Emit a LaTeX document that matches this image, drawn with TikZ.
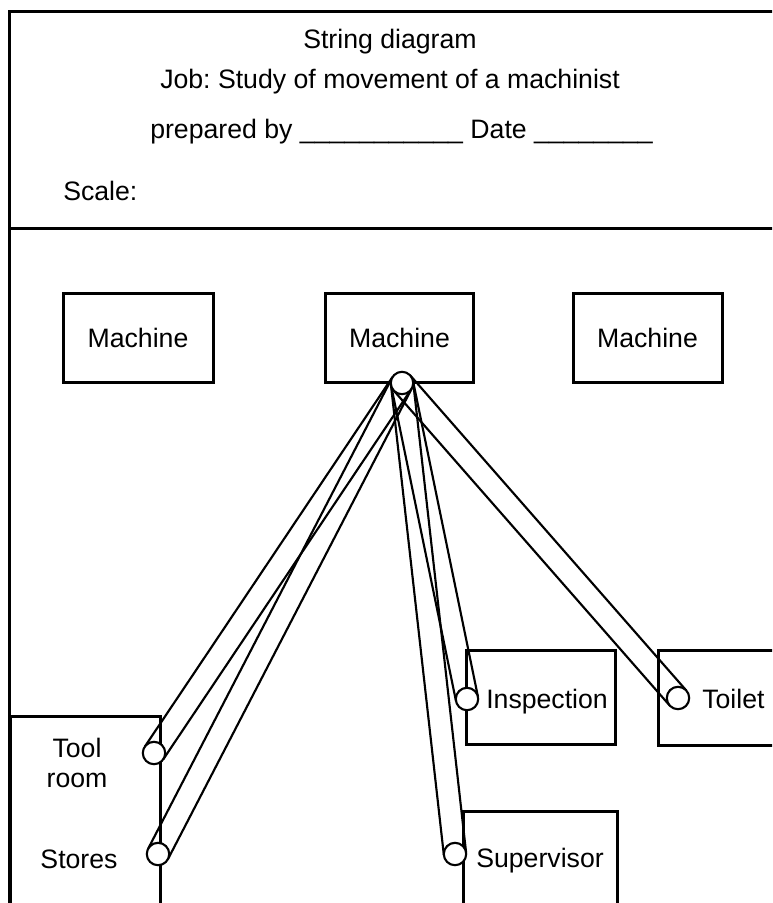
\documentclass[tikz,border=0pt]{standalone}
\usepackage{fontspec}
\setmainfont{Liberation Sans}
\usetikzlibrary{calc}
\frenchspacing
\newcommand\stringband[2]{%
  \draw[band] ($(#1)!8.4pt!90:(#2)$) -- ($(#2)!8.4pt!-90:(#1)$);
  \draw[band] ($(#1)!8.4pt!-90:(#2)$) -- ($(#2)!8.4pt!90:(#1)$);}
\begin{document}
\begin{tikzpicture}[x=0.75pt,y=-0.75pt,
  txt/.style={font=\fontsize{20}{22.5}\selectfont, inner sep=0pt},
  box/.style={draw, line width=2.25pt, inner sep=0pt, font=\fontsize{20}{22.5}\selectfont},
  frame/.style={line width=2.25pt},
  band/.style={line width=1.6pt},
  spot/.style={circle, draw, fill=white, line width=1.6pt, minimum size=16.8pt, inner sep=0pt}]
\useasboundingbox (0,0) rectangle (772,903);
\clip (0,0) rectangle (772,903);
% frame
\coordinate (ftr) at (790,11);
\coordinate (fbl) at (9,920);
\coordinate (dl) at (9,228);
\coordinate (dr) at (790,228);
\draw[frame] (ftr) -| (fbl);
\draw[frame] (dl) -- (dr);
% header texts
\node[txt, anchor=base] (title) at (390,48) {String diagram};
\node[txt, anchor=base] (job) at (390,88) {Job: Study of movement of a machinist};
\node[txt, anchor=base west] (prep) at (150,138) {prepared by \_\_\_\_\_\_\_\_\_\_\_ Date \_\_\_\_\_\_\_\_};
\node[txt, anchor=base west] (scale) at (63,200) {Scale:};
% boxes
\node[box, minimum width=150*0.75pt, minimum height=89*0.75pt] (m1) at (138,337.5) {Machine};
\node[box, minimum width=148*0.75pt, minimum height=89*0.75pt] (m2) at (399.5,337.5) {Machine};
\node[box, minimum width=149*0.75pt, minimum height=89*0.75pt] (m3) at (647.5,337.5) {Machine};
\node[box, minimum width=149*0.75pt, minimum height=94*0.75pt] (insp) at (540.5,697) {};
\node[box, minimum width=142*0.75pt, minimum height=95*0.75pt] (toil) at (729,697.5) {};
\node[box, minimum width=150*0.75pt, minimum height=214*0.75pt] (tool) at (85,823) {};
\node[box, minimum width=154*0.75pt, minimum height=119*0.75pt] (sup) at (540,870.5) {};
% labels
\node[txt, anchor=base west] (linsp) at (486,708) {Inspection};
\node[txt, anchor=base west] (ltoil) at (702,708) {Toilet};
\node[txt, anchor=base west] (lsup) at (476,867) {Supervisor};
\node[txt, anchor=north, align=center] (ltool) at (77,738) {Tool\\room};
\node[txt, anchor=base] (lstores) at (79,868) {Stores};
% circle centres
\coordinate (mc) at (402,383);
\coordinate (tc) at (154,753);
\coordinate (sc) at (158,854);
\coordinate (ic) at (467,699);
\coordinate (vc) at (455,854);
\coordinate (oc) at (678,698);
% strings
\stringband{mc}{tc}
\stringband{mc}{sc}
\stringband{mc}{ic}
\stringband{mc}{vc}
\stringband{mc}{oc}
% circles
\node[spot] (mcs) at (mc) {};
\node[spot] (tcs) at (tc) {};
\node[spot] (scs) at (sc) {};
\node[spot] (ics) at (ic) {};
\node[spot] (vcs) at (vc) {};
\node[spot] (ocs) at (oc) {};
\end{tikzpicture}
\end{document}
